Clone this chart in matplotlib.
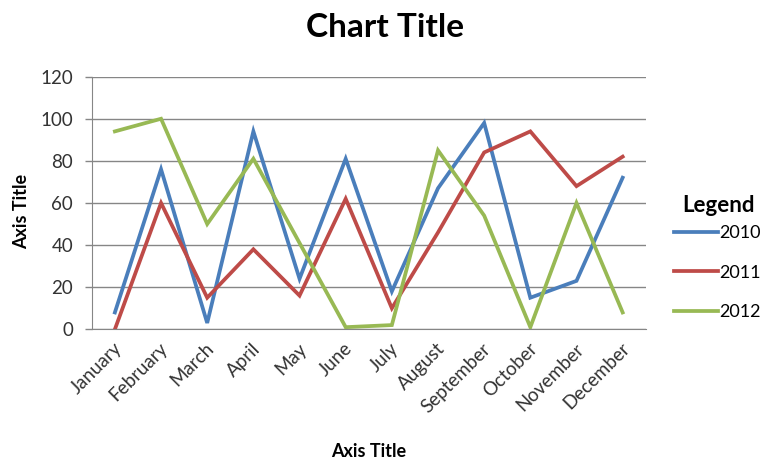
import matplotlib.pyplot as plt
import matplotlib.transforms as mtransforms
import numpy as np

months = ['January', 'February', 'March', 'April', 'May', 'June', 'July',
          'August', 'September', 'October', 'November', 'December']
s2010 = [8, 76, 3, 94, 24, 81, 18, 67, 98, 15, 23, 72]
s2011 = [0, 60, 15, 38, 16, 62, 10, 46, 84, 94, 68, 82]
s2012 = [94, 100, 50, 81, 41, 1, 2, 85, 54, 1, 60, 8]
series = ['2010', '2011', '2012']
colors = ['#4A7EBB', '#BE4B48', '#98B954']

plt.rcParams['font.family'] = ['Lato', 'DejaVu Sans']

fig = plt.figure(figsize=(7.78, 4.59), dpi=100)
ax = fig.add_axes([0.118, 0.2826, 0.712, 0.5504])

x = np.arange(len(months))
for vals, name, c in zip([s2010, s2011, s2012], series, colors):
    ax.plot(x, vals, color=c, lw=2.7, label=name, solid_joinstyle='miter')

ax.set_xlim(-0.5, len(months) - 0.5)
ax.set_ylim(0, 120)
ax.set_yticks(range(0, 121, 20))
ax.set_xticks(x)
ax.set_xticklabels(months, rotation=45, ha='right', va='center', rotation_mode='anchor',
                   fontsize=13.5, color='#333333')
ax.tick_params(axis='y', labelsize=13.5, labelcolor='#333333', length=5, color='#868686', width=1, pad=8.5)
ax.tick_params(axis='x', length=0, pad=12)
shift = mtransforms.ScaledTranslation(3 / 72, 0, fig.dpi_scale_trans)
for lab in ax.get_xticklabels():
    lab.set_transform(lab.get_transform() + shift)
ax.grid(axis='y', color='#868686', lw=1)
ax.set_axisbelow(True)
for side in ['top', 'right']:
    ax.spines[side].set_visible(False)
ax.spines['left'].set_color('#868686')
ax.spines['bottom'].set_color('#868686')

fig.text(0.495, 0.94, 'Chart Title', ha='center', va='center', fontsize=24, fontweight='bold')
fig.text(0.474, 0.017, 'Axis Title', ha='center', va='center', fontsize=13, fontweight='bold')
fig.text(0.028, 0.54, 'Axis Title', ha='center', va='center', rotation=90, fontsize=13, fontweight='bold')

# legend title drawn on its own so the gap to the first entry can match
fig.text(0.924, 0.553, 'Legend', ha='center', va='center', fontsize=16, fontweight='bold')
leg = fig.legend(loc='upper left', bbox_to_anchor=(0.855, 0.529), frameon=False,
                 fontsize=13, handlelength=2.4, handletextpad=0.1, labelspacing=1.3, borderpad=0)

fig.savefig('out.png', dpi=100)
